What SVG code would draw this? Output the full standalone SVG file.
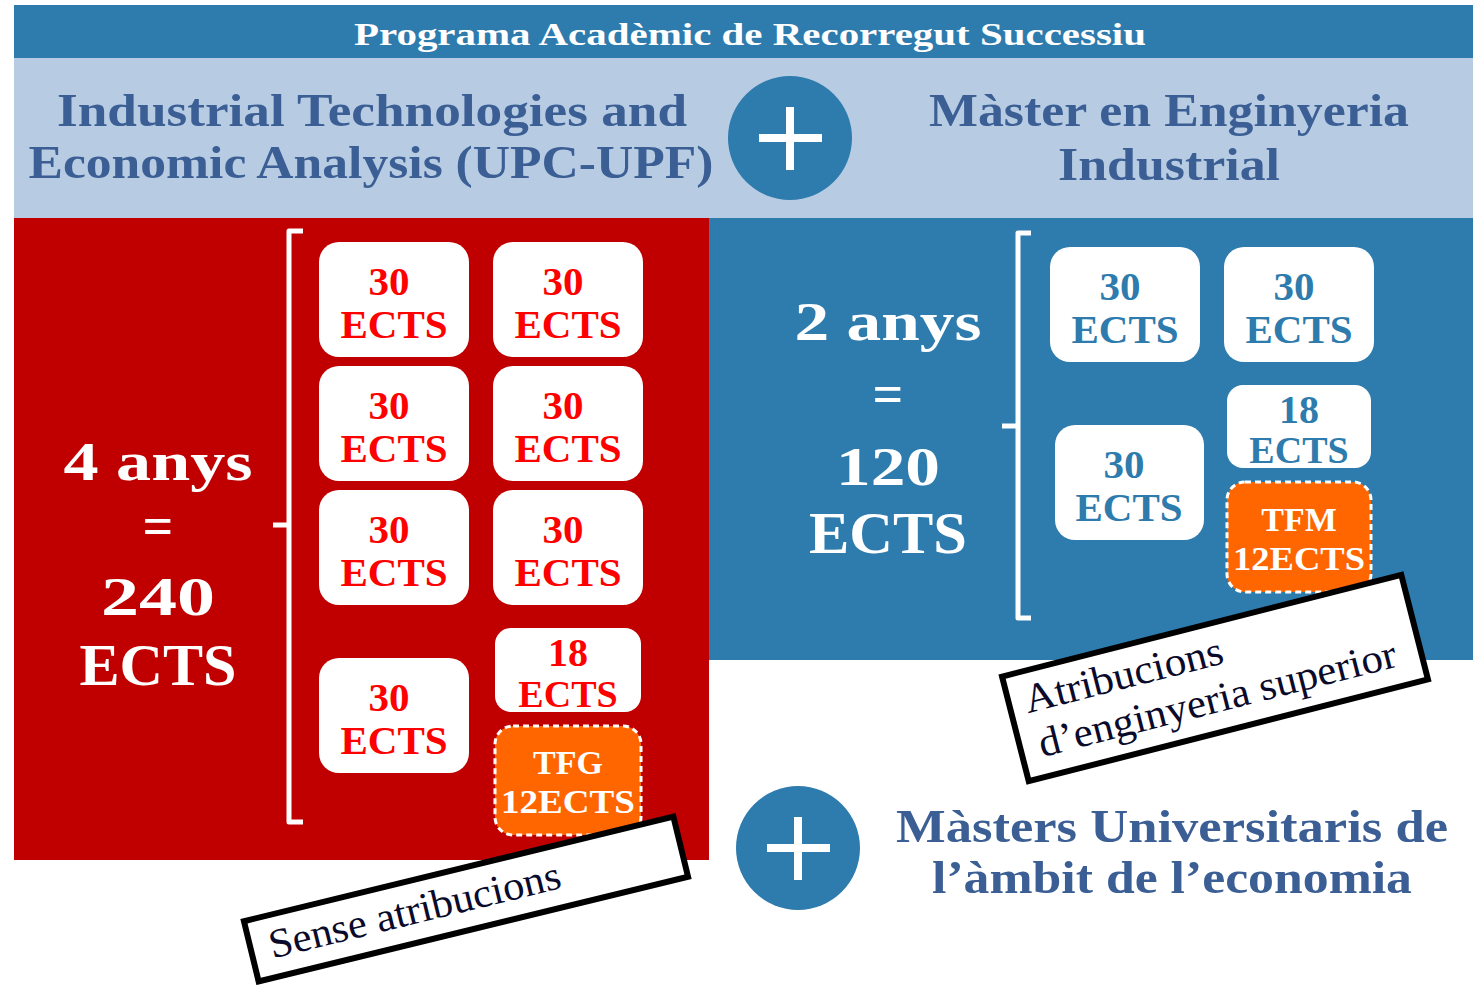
<svg xmlns="http://www.w3.org/2000/svg" width="1473" height="985" viewBox="0 0 1473 985">
<style>
.hd{font-family:"Liberation Serif","DejaVu Serif",serif;font-weight:bold;fill:#3b5f95;font-size:46px;text-anchor:middle}
.wt{font-family:"Liberation Serif","DejaVu Serif",serif;font-weight:bold;fill:#fff;text-anchor:middle}
.rt{font-family:"Liberation Serif","DejaVu Serif",serif;font-weight:bold;fill:#ff0000;text-anchor:middle}
.bt{font-family:"Liberation Serif","DejaVu Serif",serif;font-weight:bold;fill:#2e7bad;text-anchor:middle}
.n{font-size:41px}
.e{font-size:41px}
.box{fill:#fff}
.tf{fill:#ff6600;stroke:#fff;stroke-width:3;stroke-dasharray:6 4}
.br{fill:none;stroke:#fff;stroke-width:5;stroke-linejoin:round}
.lbl{fill:#fff;stroke:#000;stroke-width:6}
.lt{font-family:"Liberation Serif","DejaVu Serif",serif;fill:#0a0a2a;font-size:41px}
</style>
<rect x="0" y="0" width="1473" height="985" fill="#fff"/>
<g id="header">
<rect x="14" y="5" width="1459" height="53" fill="#2e7bad"/>
<text class="wt" x="750" y="45" font-size="32" textLength="792" lengthAdjust="spacingAndGlyphs">Programa Acadèmic de Recorregut Successiu</text>
</g>
<g id="band">
<rect x="14" y="58" width="1459" height="160" fill="#b7cce3"/>
</g>
<g id="title-left">
<text class="hd" x="372" y="126" textLength="630" lengthAdjust="spacingAndGlyphs">Industrial Technologies and</text>
<text class="hd" x="371" y="178" textLength="685" lengthAdjust="spacingAndGlyphs">Economic Analysis (UPC-UPF)</text>
</g>
<g id="plus-top">
<circle cx="790" cy="138" r="62" fill="#2e7bad"/>
<rect x="759" y="134" width="63" height="8" fill="#fff"/>
<rect x="786" y="107" width="8" height="63" fill="#fff"/>
</g>
<g id="title-right">
<text class="hd" x="1169" y="126" textLength="480" lengthAdjust="spacingAndGlyphs">Màster en Enginyeria</text>
<text class="hd" x="1169" y="180" textLength="222" lengthAdjust="spacingAndGlyphs">Industrial</text>
</g>
<g id="grau">
<rect x="14" y="218" width="695" height="642" fill="#c00000"/>
<text class="wt" x="158" y="480" font-size="54" textLength="189" lengthAdjust="spacingAndGlyphs">4 anys</text>
<text class="wt" x="158" y="544" font-size="54">=</text>
<text class="wt" x="158" y="615" font-size="54" textLength="114" lengthAdjust="spacingAndGlyphs">240</text>
<text class="wt" x="158" y="685" font-size="60" textLength="157" lengthAdjust="spacingAndGlyphs">ECTS</text>
<path class="br" d="M303 231 H289 V822 H303 M289 525 H273"/>
</g>
<g id="g-b1"><rect class="box" x="319" y="242" width="150" height="115" rx="20"/><text class="rt n" x="389" y="295">30</text><text class="rt e" x="394" y="338">ECTS</text></g>
<g id="g-b2"><rect class="box" x="493" y="242" width="150" height="115" rx="20"/><text class="rt n" x="563" y="295">30</text><text class="rt e" x="568" y="338">ECTS</text></g>
<g id="g-b3"><rect class="box" x="319" y="366" width="150" height="115" rx="20"/><text class="rt n" x="389" y="419">30</text><text class="rt e" x="394" y="462">ECTS</text></g>
<g id="g-b4"><rect class="box" x="493" y="366" width="150" height="115" rx="20"/><text class="rt n" x="563" y="419">30</text><text class="rt e" x="568" y="462">ECTS</text></g>
<g id="g-b5"><rect class="box" x="319" y="490" width="150" height="115" rx="20"/><text class="rt n" x="389" y="543">30</text><text class="rt e" x="394" y="586">ECTS</text></g>
<g id="g-b6"><rect class="box" x="493" y="490" width="150" height="115" rx="20"/><text class="rt n" x="563" y="543">30</text><text class="rt e" x="568" y="586">ECTS</text></g>
<g id="g-b7"><rect class="box" x="319" y="658" width="150" height="115" rx="20"/><text class="rt n" x="389" y="711">30</text><text class="rt e" x="394" y="754">ECTS</text></g>
<g id="g-b8"><rect class="box" x="495" y="628" width="146" height="84" rx="16"/><text class="rt" x="568" y="666" font-size="40">18</text><text class="rt" x="568" y="707" font-size="38">ECTS</text></g>
<g id="g-tfg"><rect class="tf" x="495" y="726" width="146" height="109" rx="18"/><text class="wt" x="568" y="774" font-size="34">TFG</text><text class="wt" x="568" y="813" font-size="34" textLength="134" lengthAdjust="spacingAndGlyphs">12ECTS</text></g>
<g id="master">
<rect x="709" y="218" width="764" height="442" fill="#2e7bad"/>
<text class="wt" x="888" y="340" font-size="54" textLength="187" lengthAdjust="spacingAndGlyphs">2 anys</text>
<text class="wt" x="888" y="412" font-size="54">=</text>
<text class="wt" x="888" y="485" font-size="54" textLength="104" lengthAdjust="spacingAndGlyphs">120</text>
<text class="wt" x="888" y="553" font-size="60" textLength="158" lengthAdjust="spacingAndGlyphs">ECTS</text>
<path class="br" d="M1031 233 H1018 V618 H1031 M1018 426 H1002"/>
</g>
<g id="m-b1"><rect class="box" x="1050" y="247" width="150" height="115" rx="20"/><text class="bt n" x="1120" y="300">30</text><text class="bt e" x="1125" y="343">ECTS</text></g>
<g id="m-b2"><rect class="box" x="1224" y="247" width="150" height="115" rx="20"/><text class="bt n" x="1294" y="300">30</text><text class="bt e" x="1299" y="343">ECTS</text></g>
<g id="m-b3"><rect class="box" x="1055" y="425" width="149" height="115" rx="20"/><text class="bt n" x="1124" y="478">30</text><text class="bt e" x="1129" y="521">ECTS</text></g>
<g id="m-b4"><rect class="box" x="1227" y="385" width="144" height="83" rx="16"/><text class="bt" x="1299" y="423" font-size="40">18</text><text class="bt" x="1299" y="463" font-size="38">ECTS</text></g>
<g id="m-tfm"><rect class="tf" x="1227" y="482" width="144" height="110" rx="18"/><text class="wt" x="1299" y="531" font-size="34">TFM</text><text class="wt" x="1299" y="570" font-size="34" textLength="132" lengthAdjust="spacingAndGlyphs">12ECTS</text></g>
<g id="label-atribucions" transform="translate(1215 678) rotate(-14.3)">
<rect class="lbl" x="-206" y="-54" width="412" height="108"/>
<text class="lt" x="-190" y="-12" textLength="204" lengthAdjust="spacingAndGlyphs">Atribucions</text>
<text class="lt" x="-187" y="34" textLength="368" lengthAdjust="spacingAndGlyphs">d’enginyeria superior</text>
</g>
<g id="label-sense" transform="translate(466 899) rotate(-13.7)">
<rect class="lbl" x="-221" y="-31" width="442" height="62"/>
<text class="lt" x="-202" y="12" textLength="299" lengthAdjust="spacingAndGlyphs">Sense atribucions</text>
</g>
<g id="plus-bottom">
<circle cx="798" cy="848" r="62" fill="#2e7bad"/>
<rect x="767" y="844" width="63" height="8" fill="#fff"/>
<rect x="794" y="817" width="8" height="63" fill="#fff"/>
</g>
<g id="masters-economia">
<text class="hd" x="1172" y="842" textLength="552" lengthAdjust="spacingAndGlyphs">Màsters Universitaris de</text>
<text class="hd" x="1172" y="893" textLength="480" lengthAdjust="spacingAndGlyphs">l’àmbit de l’economia</text>
</g>
<g id="connectors"></g>
</svg>
